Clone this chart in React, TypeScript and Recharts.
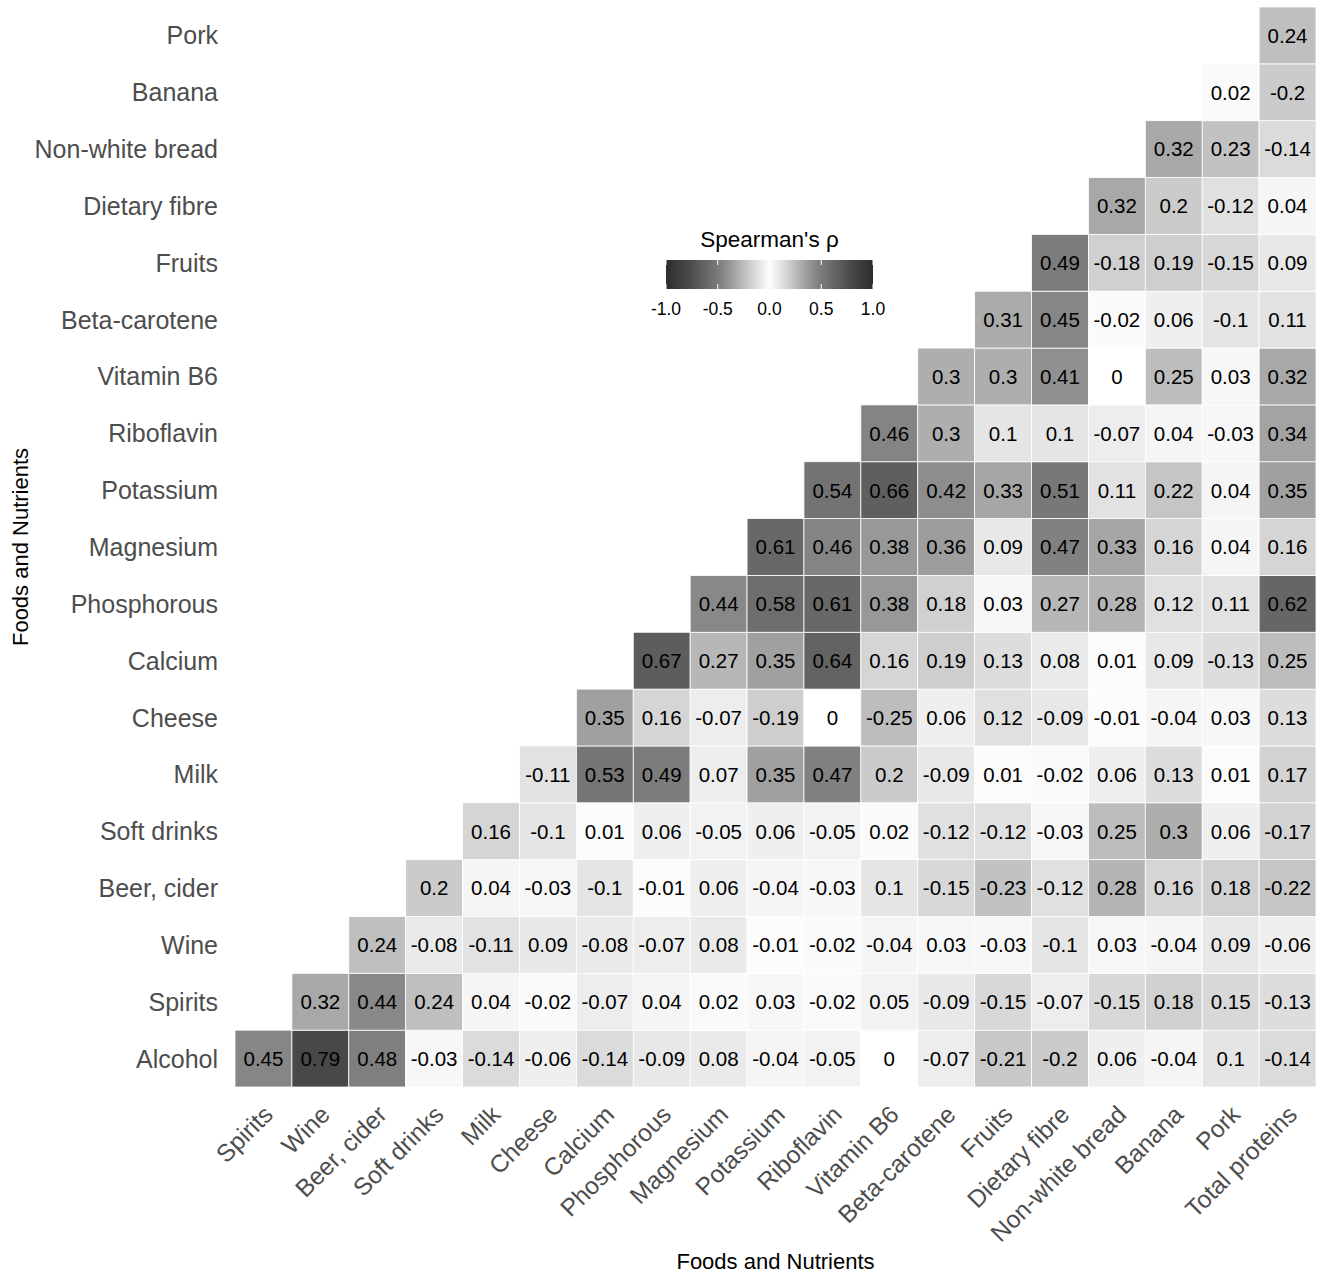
import { ScatterChart, Scatter, XAxis, YAxis, Label, Customized } from 'recharts';

// column order (x) and row order (y, bottom to top)
const foods = [
  'Spirits', 'Wine', 'Beer, cider', 'Soft drinks', 'Milk', 'Cheese', 'Calcium',
  'Phosphorous', 'Magnesium', 'Potassium', 'Riboflavin', 'Vitamin B6',
  'Beta-carotene', 'Fruits', 'Dietary fibre', 'Non-white bread', 'Banana', 'Pork',
  'Total proteins',
];
const rowLabels = [
  'Alcohol', 'Spirits', 'Wine', 'Beer, cider', 'Soft drinks', 'Milk', 'Cheese',
  'Calcium', 'Phosphorous', 'Magnesium', 'Potassium', 'Riboflavin', 'Vitamin B6',
  'Beta-carotene', 'Fruits', 'Dietary fibre', 'Non-white bread', 'Banana', 'Pork',
];

// each row starts at the column with the same index as the row
const alcohol = [0.45, 0.79, 0.48, -0.03, -0.14, -0.06, -0.14, -0.09, 0.08, -0.04, -0.05, 0, -0.07, -0.21, -0.2, 0.06, -0.04, 0.1, -0.14];
const spirits = [0.32, 0.44, 0.24, 0.04, -0.02, -0.07, 0.04, 0.02, 0.03, -0.02, 0.05, -0.09, -0.15, -0.07, -0.15, 0.18, 0.15, -0.13];
const wine = [0.24, -0.08, -0.11, 0.09, -0.08, -0.07, 0.08, -0.01, -0.02, -0.04, 0.03, -0.03, -0.1, 0.03, -0.04, 0.09, -0.06];
const beerCider = [0.2, 0.04, -0.03, -0.1, -0.01, 0.06, -0.04, -0.03, 0.1, -0.15, -0.23, -0.12, 0.28, 0.16, 0.18, -0.22];
const softDrinks = [0.16, -0.1, 0.01, 0.06, -0.05, 0.06, -0.05, 0.02, -0.12, -0.12, -0.03, 0.25, 0.3, 0.06, -0.17];
const milk = [-0.11, 0.53, 0.49, 0.07, 0.35, 0.47, 0.2, -0.09, 0.01, -0.02, 0.06, 0.13, 0.01, 0.17];
const cheese = [0.35, 0.16, -0.07, -0.19, 0, -0.25, 0.06, 0.12, -0.09, -0.01, -0.04, 0.03, 0.13];
const calcium = [0.67, 0.27, 0.35, 0.64, 0.16, 0.19, 0.13, 0.08, 0.01, 0.09, -0.13, 0.25];
const phosphorous = [0.44, 0.58, 0.61, 0.38, 0.18, 0.03, 0.27, 0.28, 0.12, 0.11, 0.62];
const magnesium = [0.61, 0.46, 0.38, 0.36, 0.09, 0.47, 0.33, 0.16, 0.04, 0.16];
const potassium = [0.54, 0.66, 0.42, 0.33, 0.51, 0.11, 0.22, 0.04, 0.35];
const riboflavin = [0.46, 0.3, 0.1, 0.1, -0.07, 0.04, -0.03, 0.34];
const vitaminB6 = [0.3, 0.3, 0.41, 0, 0.25, 0.03, 0.32];
const betaCarotene = [0.31, 0.45, -0.02, 0.06, -0.1, 0.11];
const fruits = [0.49, -0.18, 0.19, -0.15, 0.09];
const dietaryFibre = [0.32, 0.2, -0.12, 0.04];
const nonWhiteBread = [0.32, 0.23, -0.14];
const banana = [0.02, -0.2];
const pork = [0.24];

const rows = [
  alcohol, spirits, wine, beerCider, softDrinks, milk, cheese, calcium, phosphorous,
  magnesium, potassium, riboflavin, vitaminB6, betaCarotene, fruits, dietaryFibre,
  nonWhiteBread, banana, pork,
];

const legendTicks = [-1, -0.5, 0, 0.5, 1];

const cells = rows.flatMap((vals, r) => vals.map((rho, i) => ({ x: r + i, y: r, rho })));

const W = 1323;
const H = 1275;
const MARGIN = { top: 7, right: 7, left: 0, bottom: 0 };
const Y_AXIS_W = 235;
const X_AXIS_H = 188;
const CELL_W = (W - MARGIN.left - MARGIN.right - Y_AXIS_W) / foods.length;
const CELL_H = (H - MARGIN.top - MARGIN.bottom - X_AXIS_H) / rowLabels.length;
const FONT = '"Liberation Sans", Arial, Helvetica, sans-serif';

// grey level by |rho|, white at 0 going dark at +-1
const GREY = [
  [0, 255], [0.1, 229], [0.2, 203], [0.3, 174], [0.4, 146],
  [0.5, 122], [0.65, 97], [0.8, 70], [1, 45],
];
function rhoFill(v: number) {
  const a = Math.min(1, Math.abs(v));
  let g = GREY[GREY.length - 1][1];
  for (let i = 1; i < GREY.length; i++) {
    const [a0, g0] = GREY[i - 1];
    const [a1, g1] = GREY[i];
    if (a <= a1) {
      g = g0 + ((a - a0) / (a1 - a0)) * (g1 - g0);
      break;
    }
  }
  const n = Math.round(g);
  return `rgb(${n},${n},${n})`;
}

function CellShape(props: any) {
  const { cx, cy, payload } = props;
  return (
    <g>
      <rect
        x={cx - CELL_W / 2}
        y={cy - CELL_H / 2}
        width={CELL_W}
        height={CELL_H}
        fill={rhoFill(payload.rho)}
        stroke="#ffffff"
        strokeWidth={0.8}
      />
      <text x={cx} y={cy} dy="0.36em" textAnchor="middle" fontSize={20.5} fill="#000" fontFamily={FONT}>
        {String(payload.rho)}
      </text>
    </g>
  );
}

function XTick(props: any) {
  const { x, y, payload } = props;
  const px = x + 11;
  const py = y + 29;
  return (
    <text
      x={px}
      y={py}
      transform={`rotate(-45, ${px}, ${py})`}
      textAnchor="end"
      fontSize={24.5}
      fill="#4d4d4d"
      fontFamily={FONT}
    >
      {foods[payload.value]}
    </text>
  );
}

function YTick(props: any) {
  const { x, y, payload } = props;
  return (
    <text x={x} y={y} dy="0.36em" textAnchor="end" fontSize={25} fill="#4d4d4d" fontFamily={FONT}>
      {rowLabels[payload.value]}
    </text>
  );
}

function ColorLegend() {
  const bx = 666;
  const by = 260;
  const bw = 207;
  const bh = 29;
  const stops = [];
  for (let k = 0; k <= 40; k++) {
    const v = -1 + k / 20;
    stops.push(<stop key={k} offset={`${(k / 40) * 100}%`} stopColor={rhoFill(v)} />);
  }
  return (
    <g fontFamily={FONT}>
      <defs>
        <linearGradient id="rhoGrad" x1="0" y1="0" x2="1" y2="0">
          {stops}
        </linearGradient>
      </defs>
      <text x={bx + bw / 2} y={247} textAnchor="middle" fontSize={22.5} fill="#000">
        Spearman's ρ
      </text>
      <rect x={bx} y={by} width={bw} height={bh} fill="url(#rhoGrad)" />
      {legendTicks.map((t) => {
        const tx = bx + ((t + 1) / 2) * bw;
        return (
          <g key={t}>
            <line x1={tx} x2={tx} y1={by} y2={by + 5} stroke="#fff" strokeWidth={1} />
            <line x1={tx} x2={tx} y1={by + bh - 5} y2={by + bh} stroke="#fff" strokeWidth={1} />
            <text x={tx} y={315} textAnchor="middle" fontSize={17.5} fill="#000">
              {t.toFixed(1)}
            </text>
          </g>
        );
      })}
    </g>
  );
}

export default function App() {
  const idx = foods.map((_, i) => i);
  return (
    <div style={{ position: 'absolute', left: 0, top: 0, width: W, height: H, background: '#fff' }}>
      <ScatterChart width={W} height={H} margin={MARGIN}>
        <XAxis
          type="number"
          dataKey="x"
          domain={[-0.5, 18.5]}
          ticks={idx}
          interval={0}
          height={X_AXIS_H}
          axisLine={false}
          tickLine={false}
          tickSize={0}
          tickMargin={0}
          tick={<XTick />}
        >
          <Label
            content={({ viewBox }: any) => (
              <text
                x={viewBox.x + viewBox.width / 2}
                y={viewBox.y + viewBox.height - 6}
                textAnchor="middle"
                fontSize={22}
                fill="#000"
                fontFamily={FONT}
              >
                Foods and Nutrients
              </text>
            )}
          />
        </XAxis>
        <YAxis
          type="number"
          dataKey="y"
          domain={[-0.5, 18.5]}
          ticks={idx}
          interval={0}
          width={Y_AXIS_W}
          axisLine={false}
          tickLine={false}
          tickSize={0}
          tickMargin={17}
          tick={<YTick />}
        >
          <Label
            content={({ viewBox }: any) => {
              const lx = viewBox.x + 28;
              const ly = viewBox.y + viewBox.height / 2;
              return (
                <text
                  x={lx}
                  y={ly}
                  transform={`rotate(-90, ${lx}, ${ly})`}
                  textAnchor="middle"
                  fontSize={22}
                  fill="#000"
                  fontFamily={FONT}
                >
                  Foods and Nutrients
                </text>
              );
            }}
          />
        </YAxis>
        <Scatter data={cells} shape={<CellShape />} isAnimationActive={false} />
        <Customized component={<ColorLegend />} />
      </ScatterChart>
    </div>
  );
}
